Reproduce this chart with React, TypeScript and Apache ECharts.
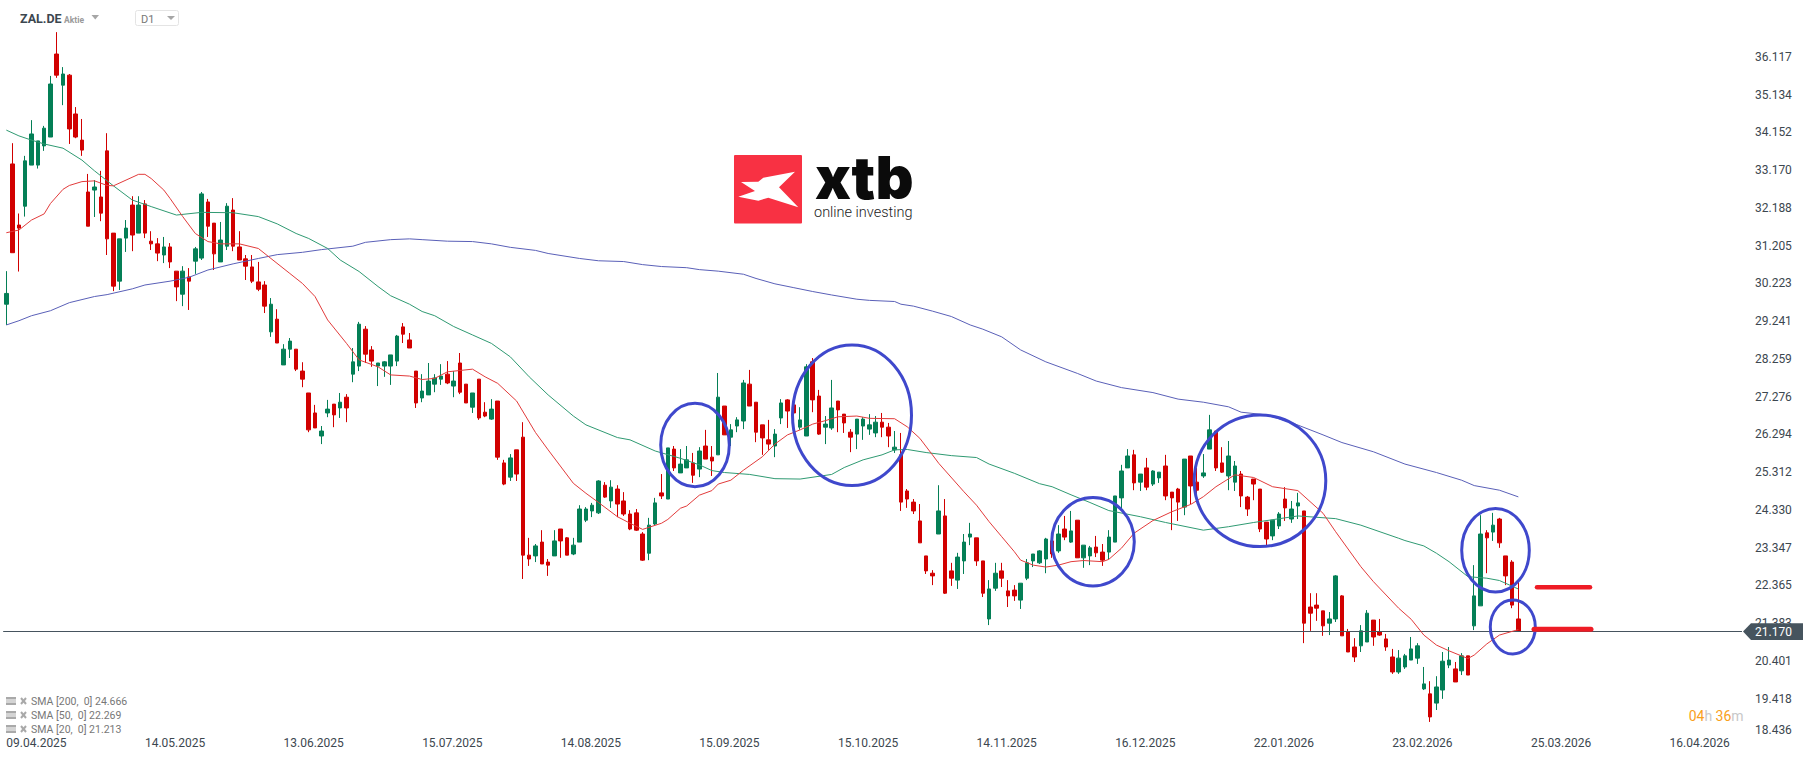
import React, { useEffect, useRef } from 'react';
import * as echarts from 'echarts';

// one label every 22 sessions, the rest of the slots stay unnamed
const tickLabels = ['09.04.2025', '14.05.2025', '13.06.2025', '15.07.2025', '14.08.2025', '15.09.2025', '15.10.2025', '14.11.2025', '16.12.2025', '22.01.2026', '23.02.2026', '25.03.2026', '16.04.2026'];
const slotCount = 276;
const categories = Array.from({ length: slotCount }, (_, i) => (i % 22 === 0 ? tickLabels[i / 22] : `#${i}`));

const priceTicks = [18.436, 19.418, 20.401, 21.383, 22.365, 23.347, 24.33, 25.312, 26.294, 27.276, 28.259, 29.241, 30.223, 31.205, 32.188, 33.17, 34.152, 35.134, 36.117];
const lastPrice = 21.17;

const opens = [
  29.68, 33.33, 31.74, 32.23, 33.30, 33.30, 33.80, 34.03, 36.19, 35.38,
  35.64, 34.63, 33.95, 32.60, 32.65, 32.47, 33.67, 31.53, 30.28, 31.40,
  32.26, 31.53, 32.29, 31.32, 31.25, 30.96, 31.17, 30.54, 29.94, 30.39,
  30.80, 30.88, 32.34, 31.79, 30.78, 31.19, 32.13, 31.17, 30.86, 30.65,
  30.26, 30.18, 28.96, 29.29, 28.10, 28.51, 28.51, 27.94, 27.37, 26.85,
  26.25, 26.85, 27.08, 26.98, 27.26, 27.86, 28.07, 29.03, 28.49, 28.07,
  28.07, 28.07, 28.20, 29.09, 28.75, 27.94, 27.24, 27.32, 27.60, 27.73,
  27.86, 27.55, 28.15, 27.60, 27.00, 27.73, 26.87, 26.69, 27.16, 25.55,
  25.18, 25.89, 26.22, 23.15, 23.13, 23.49, 22.97, 23.13, 23.83, 23.60,
  23.18, 23.49, 24.06, 24.30, 24.25, 24.97, 24.56, 24.87, 24.56, 24.22,
  24.25, 23.70, 23.20, 23.96, 24.77, 24.61, 25.91, 25.29, 25.42, 25.55,
  25.39, 25.99, 25.70, 25.76, 27.03, 26.22, 26.51, 26.64, 27.60, 27.13,
  26.54, 26.15, 25.99, 26.72, 27.19, 27.06, 26.48, 26.25, 28.18, 27.29,
  26.48, 26.46, 27.16, 26.82, 26.35, 26.30, 26.51, 26.43, 26.33, 26.61,
  26.48, 25.89, 25.76, 24.82, 24.53, 24.04, 23.13, 22.68, 23.70, 24.17,
  22.74, 22.50, 23.00, 23.62, 23.60, 23.00, 21.49, 22.29, 22.74, 22.22,
  22.24, 21.98, 22.55, 23.00, 22.95, 23.05, 23.52, 23.26, 23.83, 23.49,
  24.06, 23.08, 23.13, 23.36, 23.23, 23.23, 23.49, 24.64, 25.42, 25.76,
  25.05, 25.42, 25.00, 25.16, 25.47, 24.79, 24.87, 24.40, 25.73, 25.05,
  25.21, 25.91, 26.38, 25.55, 25.21, 25.05, 25.26, 24.66, 25.13, 24.87,
  24.01, 23.65, 23.91, 24.61, 24.09, 24.43, 24.30, 21.80, 21.85, 21.70,
  21.38, 21.49, 22.09, 21.15, 20.76, 20.79, 20.89, 21.46, 21.15, 20.97,
  20.50, 20.11, 20.24, 20.42, 20.47, 19.67, 19.54, 19.30, 19.64, 20.29,
  20.19, 20.14, 20.53, 21.31, 21.83, 23.73, 23.75, 24.09, 23.13, 22.97,
  21.49,
];
const closes = [
  29.96, 31.02, 31.66, 33.41, 34.11, 33.93, 34.26, 35.41, 35.64, 35.67,
  34.24, 34.03, 33.69, 31.71, 32.73, 32.05, 31.38, 30.15, 31.38, 31.66,
  31.48, 32.26, 31.53, 31.25, 31.01, 31.17, 30.78, 30.13, 30.54, 30.28,
  31.12, 32.55, 31.71, 30.99, 31.35, 32.23, 31.19, 30.83, 30.67, 30.28,
  30.07, 29.63, 29.68, 28.67, 28.51, 28.72, 27.99, 27.73, 26.41, 26.46,
  26.38, 26.95, 26.80, 27.13, 26.98, 28.18, 29.16, 28.38, 28.20, 28.15,
  28.18, 28.36, 28.85, 28.90, 28.54, 27.11, 27.42, 27.68, 27.76, 27.81,
  27.63, 27.68, 27.39, 27.11, 27.37, 26.72, 26.77, 26.95, 25.70, 25.00,
  25.68, 25.26, 23.15, 23.05, 23.39, 22.92, 22.89, 23.52, 23.52, 23.15,
  23.41, 24.35, 24.35, 24.45, 25.08, 24.66, 24.92, 24.48, 24.22, 23.83,
  23.80, 23.02, 23.93, 24.51, 24.69, 25.94, 25.42, 25.52, 25.63, 25.23,
  25.86, 25.65, 25.60, 27.26, 26.28, 26.41, 26.67, 27.63, 27.03, 26.35,
  26.20, 26.04, 26.30, 27.11, 26.90, 26.85, 26.67, 28.05, 27.19, 26.30,
  26.56, 26.98, 26.93, 26.59, 26.22, 26.69, 26.69, 26.54, 26.61, 26.48,
  26.25, 25.96, 24.53, 24.61, 24.30, 23.47, 22.74, 22.61, 24.30, 22.16,
  22.55, 23.10, 23.49, 23.70, 23.00, 22.16, 22.27, 22.68, 22.55, 22.09,
  22.09, 22.42, 22.95, 23.18, 23.26, 23.57, 23.18, 23.70, 23.62, 23.78,
  23.08, 23.41, 23.34, 23.21, 23.02, 23.62, 24.69, 25.34, 25.73, 25.03,
  25.26, 24.92, 25.34, 25.31, 24.69, 24.64, 24.53, 25.65, 24.95, 24.84,
  25.29, 26.41, 25.42, 25.31, 25.73, 25.47, 24.69, 24.35, 25.00, 23.83,
  23.57, 24.06, 24.22, 24.38, 24.35, 24.51, 21.38, 21.64, 21.77, 21.31,
  21.49, 22.61, 21.05, 20.63, 20.50, 21.18, 21.64, 21.02, 21.07, 20.76,
  20.11, 20.47, 20.53, 20.71, 20.79, 19.80, 18.94, 19.72, 20.39, 20.42,
  19.85, 20.53, 20.03, 22.09, 23.70, 23.60, 23.93, 23.47, 22.61, 21.85,
  21.17,
];
const lows = [
  29.14, 31.02, 30.53, 31.96, 33.30, 33.21, 33.67, 34.03, 35.57, 34.86,
  33.85, 34.00, 33.54, 31.71, 31.95, 31.84, 30.96, 30.02, 30.05, 31.04,
  31.06, 31.53, 31.40, 31.09, 30.80, 30.75, 30.62, 29.76, 29.63, 29.53,
  30.47, 30.83, 31.43, 30.57, 30.78, 31.09, 31.06, 30.83, 30.31, 30.23,
  30.02, 29.45, 28.83, 28.67, 28.10, 28.28, 27.94, 27.52, 26.35, 26.46,
  26.04, 26.74, 26.48, 26.72, 26.61, 27.65, 27.94, 28.15, 28.05, 27.55,
  27.79, 27.58, 28.07, 28.67, 28.54, 26.98, 27.13, 27.32, 27.39, 27.58,
  27.60, 27.26, 27.34, 27.11, 26.85, 26.67, 26.74, 26.67, 25.63, 24.97,
  25.08, 25.08, 22.53, 22.87, 22.97, 22.92, 22.61, 23.13, 23.08, 23.15,
  23.15, 23.49, 24.01, 24.14, 24.22, 24.64, 24.38, 24.14, 24.17, 23.80,
  23.78, 23.00, 23.02, 23.93, 24.61, 24.61, 25.34, 25.29, 25.42, 25.03,
  25.18, 25.65, 25.21, 25.76, 26.28, 25.99, 26.35, 26.43, 27.03, 26.09,
  25.76, 25.89, 25.70, 26.56, 26.46, 26.67, 26.41, 26.25, 26.87, 26.28,
  26.04, 26.41, 26.35, 26.33, 25.83, 25.91, 26.15, 26.28, 26.22, 26.22,
  25.96, 25.81, 24.30, 24.38, 24.22, 23.47, 22.66, 22.37, 23.70, 22.14,
  22.35, 22.27, 22.66, 23.41, 22.87, 22.06, 21.33, 22.22, 22.32, 21.80,
  21.96, 21.75, 22.50, 22.84, 22.92, 22.68, 23.08, 23.21, 23.54, 23.47,
  23.08, 22.82, 22.89, 23.10, 22.87, 23.04, 23.49, 24.32, 25.42, 24.84,
  24.82, 24.84, 24.95, 25.03, 24.58, 23.80, 24.04, 24.19, 24.48, 24.56,
  25.16, 25.91, 25.34, 25.29, 24.84, 24.82, 24.40, 24.17, 24.58, 23.75,
  23.39, 23.54, 23.83, 24.04, 23.99, 24.09, 20.86, 21.18, 21.44, 21.05,
  21.07, 21.41, 21.05, 20.63, 20.37, 20.63, 20.89, 20.79, 21.05, 20.66,
  20.06, 20.06, 20.19, 20.42, 20.32, 19.64, 18.81, 19.12, 19.41, 20.21,
  19.85, 20.03, 20.03, 21.20, 21.83, 22.68, 23.52, 23.34, 22.37, 21.77,
  21.17,
];
const highs = [
  30.54, 33.87, 32.04, 33.54, 34.47, 33.93, 34.32, 35.62, 36.76, 35.85,
  35.67, 34.81, 34.50, 33.07, 32.91, 33.15, 34.13, 31.53, 31.38, 31.87,
  32.49, 32.49, 32.39, 31.58, 31.40, 31.43, 31.27, 30.54, 30.67, 30.62,
  31.17, 32.60, 32.42, 31.79, 31.82, 32.31, 32.44, 31.58, 30.96, 30.96,
  30.78, 30.28, 29.84, 29.55, 28.64, 28.80, 28.51, 28.17, 27.37, 27.06,
  26.51, 27.19, 27.08, 27.37, 27.34, 28.54, 29.22, 29.11, 28.59, 28.15,
  28.20, 28.36, 28.88, 29.19, 28.93, 27.94, 27.86, 28.15, 27.86, 28.12,
  28.20, 27.94, 28.41, 27.60, 27.37, 27.73, 27.13, 27.21, 27.16, 25.63,
  25.78, 25.89, 26.61, 23.60, 23.44, 23.80, 23.05, 23.80, 23.83, 23.62,
  23.60, 24.45, 24.40, 24.51, 25.10, 25.05, 25.10, 24.97, 24.79, 24.32,
  24.35, 23.75, 24.12, 24.64, 25.26, 25.94, 25.99, 25.91, 25.99, 25.81,
  25.96, 26.41, 25.99, 27.89, 27.03, 26.56, 26.74, 27.71, 27.97, 27.13,
  26.54, 26.67, 26.43, 27.21, 27.21, 27.06, 27.00, 28.12, 28.28, 27.45,
  26.77, 27.71, 27.16, 26.82, 26.43, 26.69, 26.74, 26.82, 26.77, 26.85,
  26.59, 26.38, 26.33, 24.87, 24.61, 24.48, 23.13, 22.76, 24.97, 24.61,
  22.95, 23.21, 23.70, 23.99, 23.60, 23.00, 22.50, 22.95, 22.95, 22.50,
  22.37, 22.42, 23.05, 23.18, 23.28, 23.60, 23.54, 23.93, 24.17, 24.30,
  24.06, 23.41, 23.39, 23.65, 23.44, 23.80, 24.69, 25.50, 25.91, 25.89,
  25.26, 25.68, 25.36, 25.31, 25.76, 24.79, 24.90, 25.65, 25.73, 25.42,
  25.78, 26.80, 26.38, 25.96, 26.12, 25.60, 25.34, 24.69, 25.13, 24.87,
  24.01, 24.06, 24.27, 24.92, 24.56, 24.77, 24.30, 22.16, 22.16, 21.70,
  21.67, 22.63, 22.11, 21.23, 20.99, 21.33, 21.72, 21.46, 21.49, 21.10,
  20.71, 20.68, 20.58, 21.02, 20.86, 20.24, 19.87, 20.00, 20.63, 20.76,
  20.37, 20.60, 20.53, 22.89, 24.19, 23.80, 24.25, 24.12, 23.13, 23.02,
  22.50,
];

// moving averages: [session, price]
const sma20: [number, number][] = [
  [0, 31.54], [2, 31.61], [4, 31.87], [6, 32.03], [7, 32.3], [9, 32.67], [10, 32.77], [12, 32.87], [14, 32.89], [16, 32.77],
  [17, 32.76], [19, 32.91], [21, 33.06], [22, 33.06], [23, 32.95], [25, 32.65], [26, 32.43], [28, 31.96], [30, 31.52], [32, 31.31],
  [34, 31.25], [37, 31.25], [40, 31.13], [42, 30.87], [45, 30.48], [47, 30.22], [49, 29.88], [51, 29.27], [54, 28.66], [56, 28.23],
  [59, 28.05], [61, 27.84], [64, 27.81], [66, 27.72], [68, 27.75], [70, 27.92], [74, 27.99], [76, 27.79], [78, 27.62], [81, 27.16],
  [84, 26.34], [86, 25.89], [90, 25.02], [92, 24.76], [94, 24.52], [97, 24.15], [99, 23.98], [101, 23.82], [104, 23.98], [105, 24.08],
  [107, 24.37], [108, 24.43], [110, 24.71], [112, 24.83], [113, 25.0], [115, 25.1], [117, 25.36], [120, 25.71], [122, 26.04], [124, 26.28],
  [126, 26.41], [128, 26.56], [130, 26.65], [132, 26.75], [135, 26.77], [137, 26.71], [141, 26.7], [143, 26.49], [145, 26.19], [147, 25.76],
  [148, 25.54], [152, 24.8], [154, 24.45], [156, 24.02], [158, 23.63], [160, 23.24], [161, 23.02], [163, 22.89], [165, 22.84], [167, 22.89],
  [169, 22.98], [171, 23.01], [174, 22.98], [175, 23.04], [177, 23.33], [179, 23.72], [182, 24.05], [185, 24.28], [188, 24.47], [190, 24.67],
  [192, 24.93], [195, 25.24], [198, 25.17], [201, 24.93], [205, 24.83], [209, 24.24], [211, 23.76], [215, 22.85], [217, 22.46], [221, 21.77],
  [223, 21.48], [225, 21.07], [227, 20.81], [229, 20.66], [232, 20.46], [233, 20.55], [235, 20.84], [237, 21.07], [240, 21.213],
];
const sma50: [number, number][] = [
  [0, 34.21], [2, 34.06], [4, 33.95], [6, 33.85], [9, 33.74], [12, 33.43], [14, 33.15], [17, 32.76], [20, 32.39], [23, 32.22],
  [27, 32.0], [31, 32.07], [36, 32.06], [40, 31.96], [43, 31.77], [46, 31.52], [48, 31.39], [51, 31.13], [53, 30.83], [56, 30.53],
  [59, 30.14], [61, 29.9], [64, 29.68], [66, 29.49], [68, 29.38], [71, 29.1], [74, 28.88], [77, 28.66], [80, 28.31], [83, 27.79],
  [86, 27.32], [90, 26.77], [92, 26.54], [97, 26.21], [99, 26.15], [103, 25.86], [107, 25.67], [110, 25.5], [112, 25.35], [114, 25.3],
  [118, 25.25], [122, 25.14], [126, 25.13], [131, 25.25], [133, 25.43], [136, 25.63], [139, 25.76], [141, 25.89], [143, 25.9], [146, 25.82],
  [150, 25.74], [154, 25.69], [156, 25.52], [160, 25.28], [164, 25.01], [166, 24.93], [169, 24.72], [172, 24.52], [175, 24.31], [180, 24.15],
  [184, 24.0], [190, 23.8], [194, 23.89], [198, 24.0], [205, 24.17], [211, 24.1], [215, 23.93], [221, 23.59], [222, 23.53], [225, 23.39],
  [227, 23.2], [229, 22.98], [232, 22.59], [235, 22.55], [237, 22.49], [240, 22.269],
];
const sma200: [number, number][] = [
  [0, 29.14], [2, 29.25], [4, 29.38], [7, 29.51], [10, 29.72], [14, 29.88], [16, 29.93], [20, 30.08], [22, 30.18], [26, 30.28],
  [29, 30.38], [32, 30.57], [36, 30.73], [40, 30.87], [43, 30.97], [47, 31.03], [50, 31.1], [55, 31.19], [57, 31.29], [61, 31.36],
  [64, 31.38], [66, 31.36], [70, 31.32], [74, 31.31], [77, 31.25], [80, 31.16], [84, 31.08], [86, 31.0], [91, 30.87], [94, 30.81],
  [98, 30.79], [101, 30.71], [104, 30.66], [108, 30.63], [110, 30.58], [113, 30.54], [117, 30.46], [119, 30.35], [122, 30.21], [125, 30.11],
  [128, 30.01], [131, 29.92], [135, 29.81], [137, 29.78], [141, 29.75], [142, 29.68], [144, 29.63], [147, 29.5], [150, 29.36], [153, 29.14],
  [155, 29.03], [158, 28.83], [161, 28.49], [165, 28.18], [170, 27.88], [173, 27.68], [177, 27.51], [182, 27.38], [186, 27.21], [190, 27.13],
  [194, 27.01], [196, 26.87], [200, 26.8], [204, 26.6], [209, 26.28], [212, 26.08], [217, 25.84], [222, 25.52], [227, 25.3], [231, 25.1],
  [233, 24.96], [237, 24.84], [240, 24.666],
];

const legendRows = ['SMA [200,  0] 24.666', 'SMA [50,  0] 22.269', 'SMA [20,  0] 21.213'];

const UP = '#047f56';
const DOWN = '#d10000';
const AXIS_TEXT = '#3c474f';
const FONT = 'Roboto';
const CIRCLE = '#3f48cc';

const ring = (cx: number, cy: number, rx: number, ry: number) => ({
  type: 'ellipse',
  z: 60,
  shape: { cx, cy, rx, ry },
  style: { fill: 'none', stroke: CIRCLE, lineWidth: 3 },
});

const triangle = (x: number, y: number, w: number, h: number) => ({
  type: 'polygon',
  z: 72,
  shape: { points: [[x, y], [x + w, y], [x + w / 2, y + h]] },
  style: { fill: '#a6a6a6' },
});

const legendIcon = (y: number) => [
  { type: 'rect', z: 70, shape: { x: 6, y: y - 4.5, width: 10, height: 2.5 }, style: { fill: '#a9a9a9' } },
  { type: 'rect', z: 70, shape: { x: 6, y: y - 1, width: 10, height: 1 }, style: { fill: '#a9a9a9' } },
  { type: 'rect', z: 70, shape: { x: 6, y: y + 1, width: 10, height: 2.5 }, style: { fill: '#a9a9a9' } },
  { type: 'line', z: 70, shape: { x1: 21, y1: y - 3.5, x2: 26, y2: y + 2.5 }, style: { stroke: '#a9a9a9', lineWidth: 2 } },
  { type: 'line', z: 70, shape: { x1: 26, y1: y - 3.5, x2: 21, y2: y + 2.5 }, style: { stroke: '#a9a9a9', lineWidth: 2 } },
];

const App: React.FC = () => {
  const chartRef = useRef<HTMLDivElement>(null);

  useEffect(() => {
    const chart = echarts.init(chartRef.current, null, { renderer: 'svg' });

    const smaSeries = (name: string, data: [number, number][], color: string) => ({
      name,
      type: 'line',
      data,
      symbol: 'none',
      z: 5,
      lineStyle: { color, width: 1 },
    });

    const option = {
      animation: false,
      backgroundColor: '#fff',
      grid: { left: 3.18, top: 0, width: 1738.8, height: 736.3 },
      xAxis: {
        type: 'category',
        data: categories,
        boundaryGap: true,
        axisLine: { show: false },
        axisTick: { show: false },
        splitLine: { show: false },
        axisLabel: {
          interval: (i: number) => i % 22 === 0,
          align: 'left',
          margin: 1,
          color: AXIS_TEXT,
          fontFamily: FONT,
          fontSize: 12,
        },
      },
      yAxis: {
        type: 'value',
        position: 'right',
        min: 18.436,
        max: 37.596,
        axisLine: { show: false },
        axisTick: { show: false },
        splitLine: { show: false },
        axisLabel: {
          customValues: priceTicks,
          formatter: (v: number) => v.toFixed(3),
          align: 'left',
          margin: 13,
          verticalAlignMinLabel: 'bottom',
          color: AXIS_TEXT,
          fontFamily: FONT,
          fontSize: 12,
        },
      },
      series: [
        {
          name: 'ZAL.DE',
          type: 'candlestick',
          barWidth: 4,
          data: opens.map((o, i) => [o, closes[i], lows[i], highs[i]]),
          itemStyle: { color: UP, color0: DOWN, borderColor: UP, borderColor0: DOWN, borderWidth: 1 },
          markLine: {
            silent: true,
            symbol: 'none',
            label: { show: false },
            lineStyle: { color: '#46545e', width: 1, type: 'solid' },
            data: [{ yAxis: lastPrice }],
          },
        },
        smaSeries('SMA 200', sma200, '#5a60b8'),
        smaSeries('SMA 50', sma50, '#2f9a72'),
        smaSeries('SMA 20', sma20, '#e23b3b'),
      ],
      graphic: [
        // header
        { type: 'text', z: 70, x: 20, y: 18.5, style: { text: 'ZAL.DE', fontFamily: FONT, fontWeight: 'bold', fontSize: 12.5, fill: '#3c474f', verticalAlign: 'middle' } },
        { type: 'text', z: 70, x: 64, y: 19.5, style: { text: 'Aktie', fontFamily: FONT, fontWeight: 'bold', fontSize: 8.5, fill: '#9a9a9a', verticalAlign: 'middle' } },
        triangle(91.5, 15, 7.5, 4.5),
        { type: 'rect', z: 70, shape: { x: 135.5, y: 10.5, width: 43, height: 15, r: 2 }, style: { fill: '#fff', stroke: '#e4e4e4', lineWidth: 1 } },
        { type: 'text', z: 71, x: 141, y: 19.5, style: { text: 'D1', fontFamily: FONT, fontSize: 11, fill: '#777', verticalAlign: 'middle' } },
        triangle(167, 16, 8, 4),

        // logo
        { type: 'rect', z: 40, shape: { x: 734, y: 155, width: 68, height: 68.5, r: 1 }, style: { fill: '#f83143' } },
        {
          type: 'polygon',
          z: 41,
          shape: {
            points: [[795, 171.7], [779, 187.3], [798.3, 207.3], [768.3, 197.7], [758.3, 200.7], [738.3, 196.7], [755, 191], [741, 182], [758.3, 181.7], [763.3, 177.7]],
          },
          style: { fill: '#fff' },
        },
        { type: 'text', z: 41, x: 815, y: 197.5, style: { text: 'xtb', fontFamily: 'Inter', fontWeight: 900, fontSize: 59, lineHeight: 40, fill: '#0b0b0b', verticalAlign: 'bottom' } },
        { type: 'text', z: 41, x: 814, y: 212.5, style: { text: 'online investing', fontFamily: FONT, fontWeight: 300, fontSize: 14.5, fill: '#222', verticalAlign: 'middle' } },

        // hand-drawn annotations
        ring(695, 445, 34.3, 41.7),
        ring(852, 415.3, 59.5, 70.3),
        ring(1093, 541.8, 41.3, 44.2),
        ring(1260, 480.8, 65.8, 65.8),
        ring(1495.5, 550.3, 33.8, 41.7),
        ring(1512.8, 627, 22.5, 27),
        { type: 'line', z: 60, shape: { x1: 1537, y1: 587.3, x2: 1590, y2: 587.3 }, style: { stroke: '#ee1c25', lineWidth: 4.5, lineCap: 'round' } },
        { type: 'line', z: 60, shape: { x1: 1534, y1: 629.3, x2: 1591, y2: 629.3 }, style: { stroke: '#ee1c25', lineWidth: 5, lineCap: 'round' } },

        // last price badge
        {
          type: 'polygon',
          z: 80,
          shape: { points: [[1743, 631.6], [1751, 623.3], [1803, 623.3], [1803, 640], [1751, 640]] },
          style: { fill: '#46545e' },
        },
        { type: 'text', z: 81, x: 1755, y: 632, style: { text: lastPrice.toFixed(3), fontFamily: FONT, fontSize: 12, fill: '#fff', verticalAlign: 'middle' } },

        // candle countdown
        {
          type: 'text',
          z: 70,
          x: 1688.7,
          y: 716,
          style: {
            text: '{o|04}{g|h} {o|36}{g|m}',
            fontFamily: FONT,
            fontSize: 14,
            verticalAlign: 'middle',
            rich: {
              o: { fill: '#f9a01b', fontFamily: FONT, fontSize: 14 },
              g: { fill: '#c8c8c8', fontFamily: FONT, fontSize: 14 },
            },
          },
        },

        // indicator legend
        ...[701.5, 715.5, 729.5].flatMap((y) => legendIcon(y)),
        ...legendRows.map((text, i) => ({
          type: 'text',
          z: 70,
          x: 31,
          y: 701.7 + i * 14,
          style: { text, fontFamily: FONT, fontSize: 10.5, fill: '#777', verticalAlign: 'middle' },
        })),
      ],
    };

    chart.setOption(option);
    return () => chart.dispose();
  }, []);

  return <div ref={chartRef} style={{ position: 'fixed', left: 0, top: 0, width: 1815, height: 761 }} />;
};

export default App;
